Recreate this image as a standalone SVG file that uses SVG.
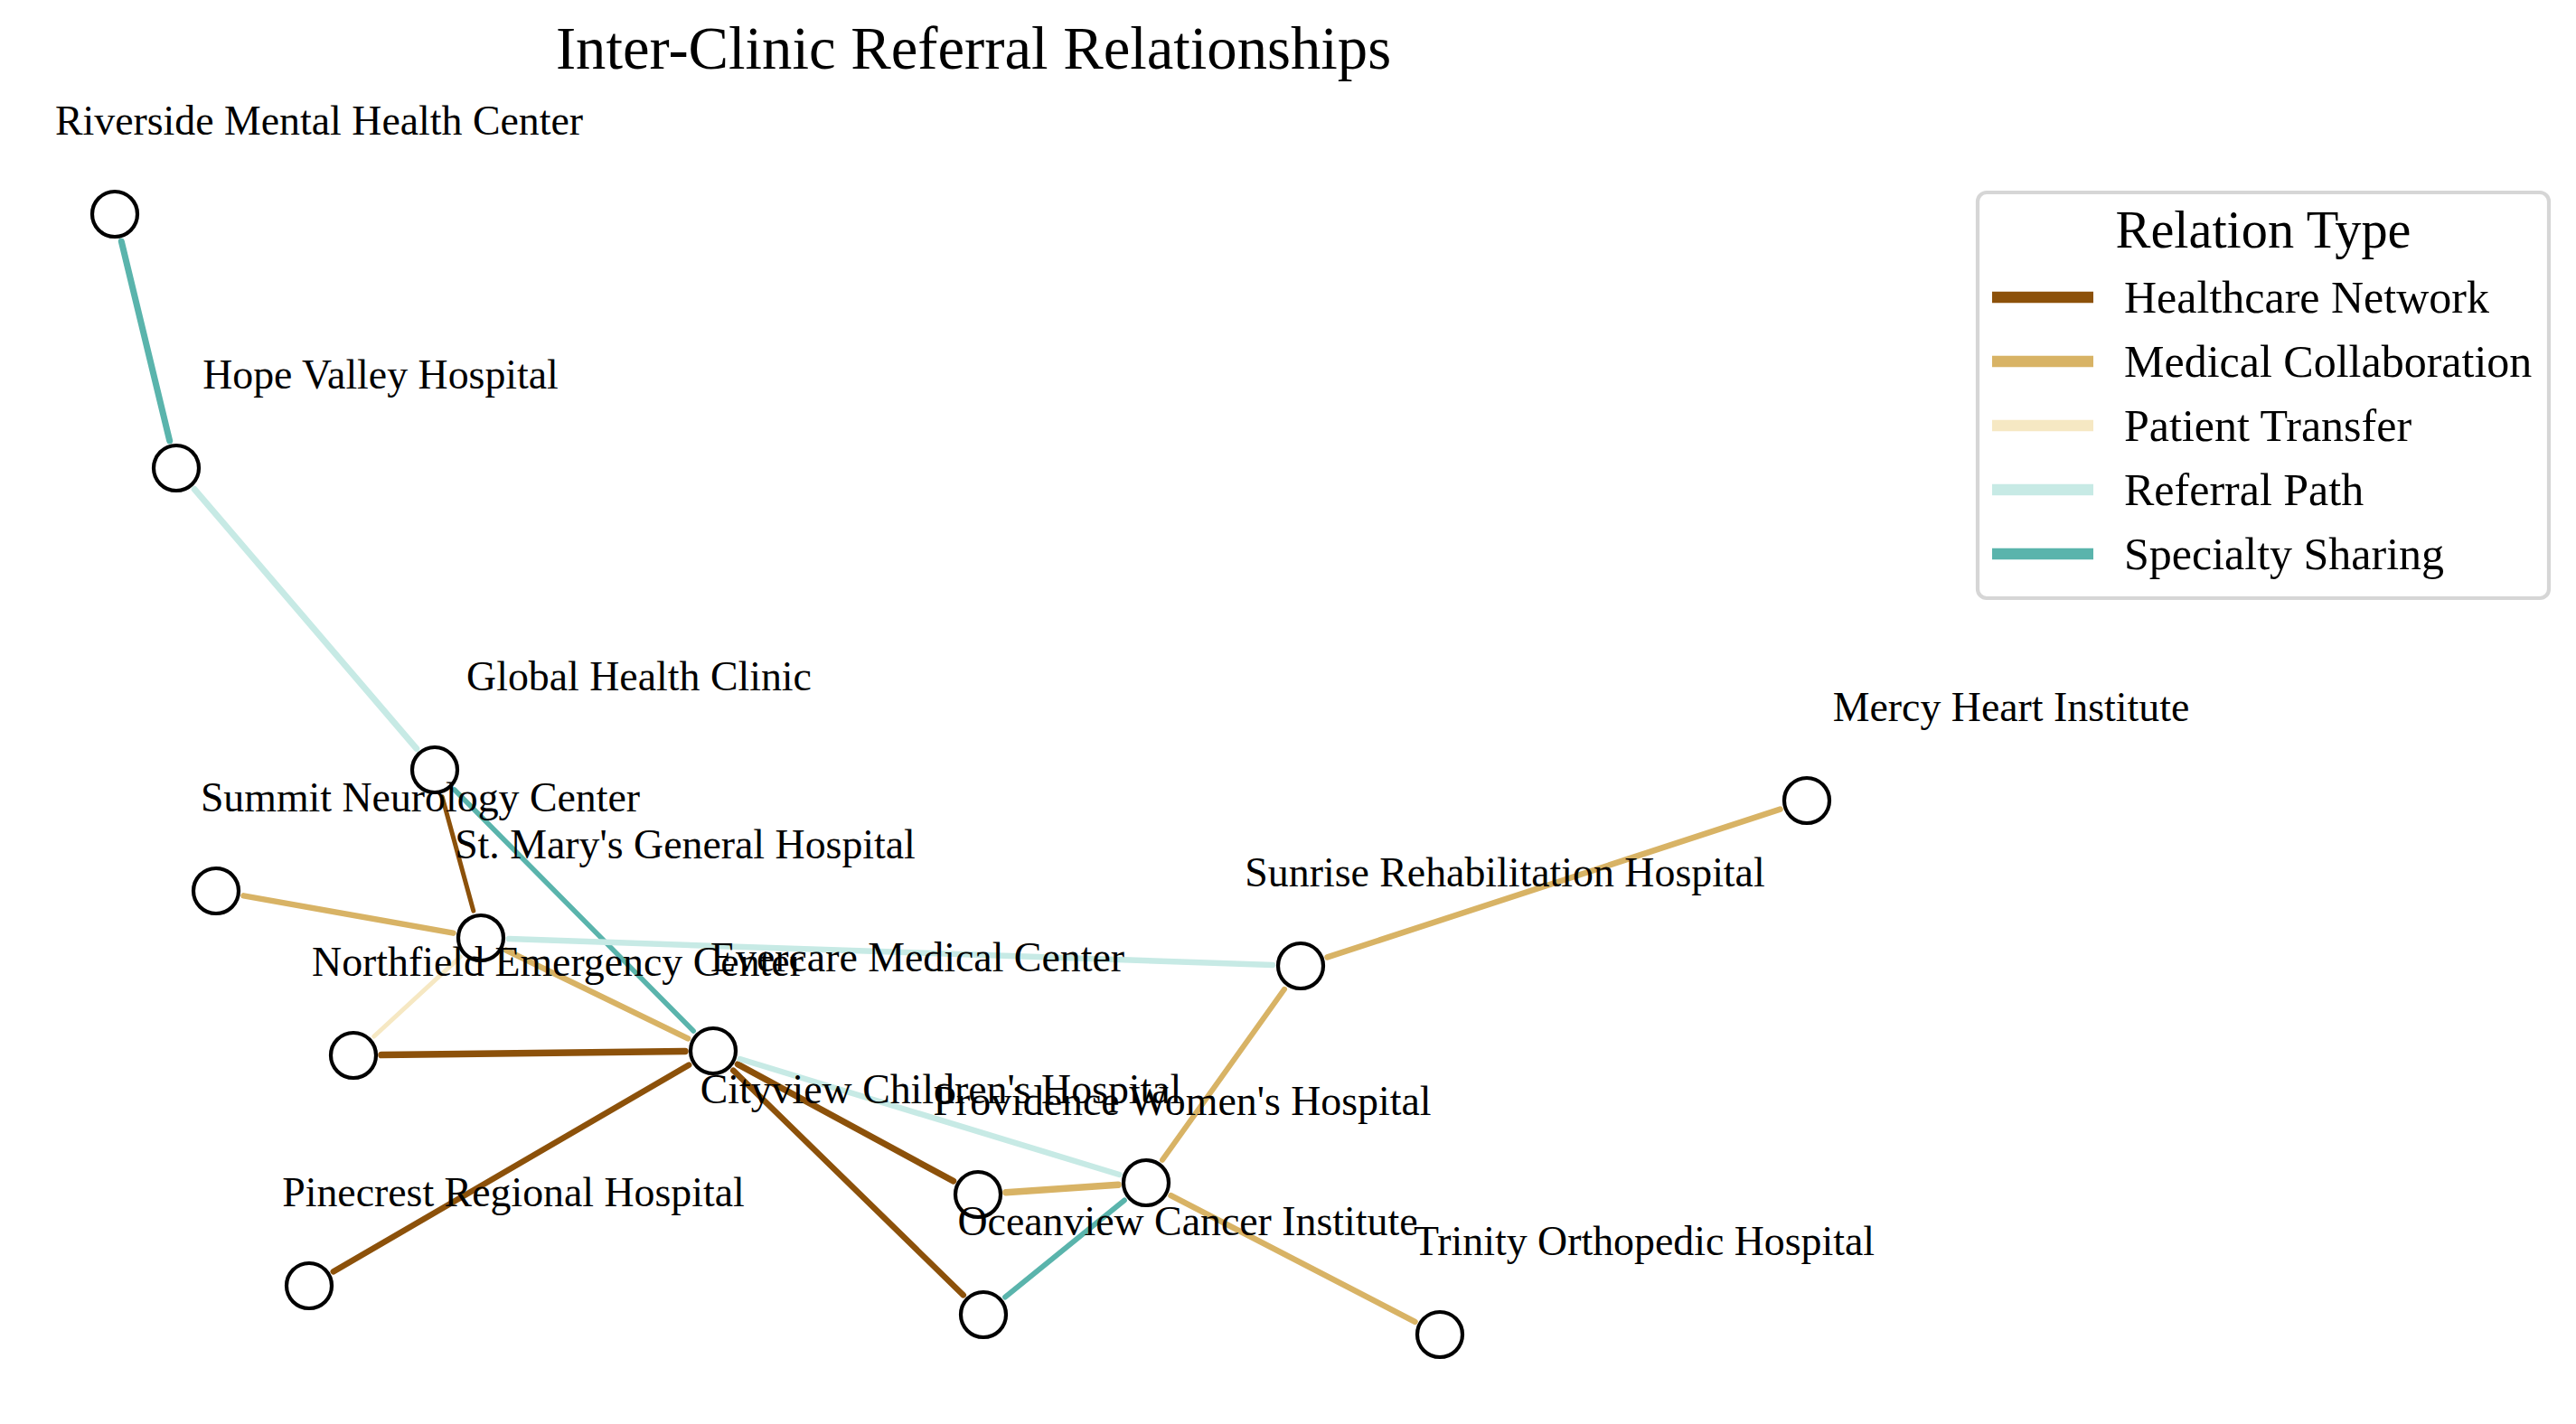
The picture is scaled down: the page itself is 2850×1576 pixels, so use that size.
<svg xmlns="http://www.w3.org/2000/svg" width="2850" height="1576" viewBox="0 0 2850 1576">
<style>
text { font-family: "Liberation Serif", "Times New Roman", serif; fill: #000; }
.title { font-size: 66.67px; text-anchor: middle; }
.lbl { font-size: 45.83px; text-anchor: middle; }
.node circle { fill: #fff; stroke: #000; stroke-width: 4.2; }
.e { fill: none; stroke-linecap: round; }
.hn { stroke: #8c510a; }
.mc { stroke: #d8b365; }
.pt { stroke: #f6e8c3; }
.rp { stroke: #c7eae5; }
.ss { stroke: #5ab4ac; }
.leg-title { font-size: 58.33px; text-anchor: middle; }
.leg-txt { font-size: 50px; }
.leg-line { stroke-width: 12.5; stroke-linecap: butt; }
</style>
<rect width="2850" height="1576" fill="#fff"/>
<text class="title" x="1077" y="76">Inter-Clinic Referral Relationships</text>

<g id="connectors">
  <line class="e ss" stroke-width="7" x1="134.3" y1="267.1" x2="187.7" y2="487.9"/>
  <line class="e rp" stroke-width="7" x1="215.2" y1="541.5" x2="460.8" y2="828.5"/>
  <line class="e ss" stroke-width="5.5" x1="502.8" y1="874.0" x2="767.2" y2="1141.0"/>
  <line class="e hn" stroke-width="5" x1="489.2" y1="881.9" x2="523.8" y2="1008.1"/>
  <line class="e mc" stroke-width="6.5" x1="269.5" y1="991.4" x2="501.5" y2="1032.6"/>
  <line class="e mc" stroke-width="6.5" x1="559.9" y1="1051.6" x2="761.1" y2="1149.4"/>
  <line class="e rp" stroke-width="6.5" x1="563.0" y1="1039.1" x2="1408.0" y2="1067.9"/>
  <line class="e pt" stroke-width="5" x1="413.8" y1="1147.0" x2="509.2" y2="1059.0"/>
  <line class="e hn" stroke-width="7.5" x1="422.0" y1="1167.6" x2="758.0" y2="1163.4"/>
  <line class="e hn" stroke-width="6.5" x1="368.8" y1="1407.4" x2="762.2" y2="1178.6"/>
  <line class="e hn" stroke-width="7" x1="816.2" y1="1177.8" x2="1054.8" y2="1307.2"/>
  <line class="e hn" stroke-width="6.5" x1="811.2" y1="1184.7" x2="1065.8" y2="1433.3"/>
  <line class="e rp" stroke-width="6.5" x1="818.7" y1="1172.0" x2="1238.4" y2="1300.0"/>
  <line class="e mc" stroke-width="7.5" x1="1112.9" y1="1319.8" x2="1237.1" y2="1311.2"/>
  <line class="e ss" stroke-width="6" x1="1112.1" y1="1435.5" x2="1243.9" y2="1328.5"/>
  <line class="e mc" stroke-width="6.5" x1="1295.5" y1="1323.2" x2="1565.5" y2="1462.8"/>
  <line class="e mc" stroke-width="6" x1="1286.0" y1="1283.8" x2="1421.0" y2="1094.8"/>
  <line class="e mc" stroke-width="6.5" x1="1468.5" y1="1059.4" x2="1969.5" y2="895.6"/>
</g>

<g id="node-riverside" class="node"><circle cx="127" cy="237" r="25"/><text class="lbl" x="353" y="149">Riverside Mental Health Center</text></g>
<g id="node-hope-valley" class="node"><circle cx="195" cy="518" r="25"/><text class="lbl" x="421" y="430">Hope Valley Hospital</text></g>
<g id="node-global-health" class="node"><circle cx="481" cy="852" r="25"/><text class="lbl" x="707" y="764">Global Health Clinic</text></g>
<g id="node-summit" class="node"><circle cx="239" cy="986" r="25"/><text class="lbl" x="465" y="898">Summit Neurology Center</text></g>
<g id="node-st-marys" class="node"><circle cx="532" cy="1038" r="25"/><text class="lbl" x="758" y="950">St. Mary's General Hospital</text></g>
<g id="node-northfield" class="node"><circle cx="391" cy="1168" r="25"/><text class="lbl" x="617" y="1080">Northfield Emergency Center</text></g>
<g id="node-evercare" class="node"><circle cx="789" cy="1163" r="25"/><text class="lbl" x="1015" y="1075">Evercare Medical Center</text></g>
<g id="node-pinecrest" class="node"><circle cx="342" cy="1423" r="25"/><text class="lbl" x="568" y="1335">Pinecrest Regional Hospital</text></g>
<g id="node-providence" class="node"><circle cx="1082" cy="1322" r="25"/><text class="lbl" x="1308" y="1234">Providence Women's Hospital</text></g>
<g id="node-cityview" class="node"><circle cx="1268" cy="1309" r="25"/><text class="lbl" x="1041" y="1221">Cityview Children's Hospital</text></g>
<g id="node-oceanview" class="node"><circle cx="1088" cy="1455" r="25"/><text class="lbl" x="1314" y="1367">Oceanview Cancer Institute</text></g>
<g id="node-trinity" class="node"><circle cx="1593" cy="1477" r="25"/><text class="lbl" x="1819" y="1389">Trinity Orthopedic Hospital</text></g>
<g id="node-sunrise" class="node"><circle cx="1439" cy="1069" r="25"/><text class="lbl" x="1665" y="981">Sunrise Rehabilitation Hospital</text></g>
<g id="node-mercy" class="node"><circle cx="1999" cy="886" r="25"/><text class="lbl" x="2225" y="798">Mercy Heart Institute</text></g>

<g id="legend">
  <rect x="2188" y="213" width="632" height="449" rx="10" ry="10" fill="#fff" stroke="#d6d6d6" stroke-width="4.2"/>
  <text class="leg-title" x="2504" y="274">Relation Type</text>
  <line class="leg-line hn" x1="2204" y1="329" x2="2316" y2="329"/>
  <text class="leg-txt" x="2350" y="346">Healthcare Network</text>
  <line class="leg-line mc" x1="2204" y1="400" x2="2316" y2="400"/>
  <text class="leg-txt" x="2350" y="417">Medical Collaboration</text>
  <line class="leg-line pt" x1="2204" y1="471" x2="2316" y2="471"/>
  <text class="leg-txt" x="2350" y="488">Patient Transfer</text>
  <line class="leg-line rp" x1="2204" y1="542" x2="2316" y2="542"/>
  <text class="leg-txt" x="2350" y="559">Referral Path</text>
  <line class="leg-line ss" x1="2204" y1="613" x2="2316" y2="613"/>
  <text class="leg-txt" x="2350" y="630">Specialty Sharing</text>
</g>
</svg>
